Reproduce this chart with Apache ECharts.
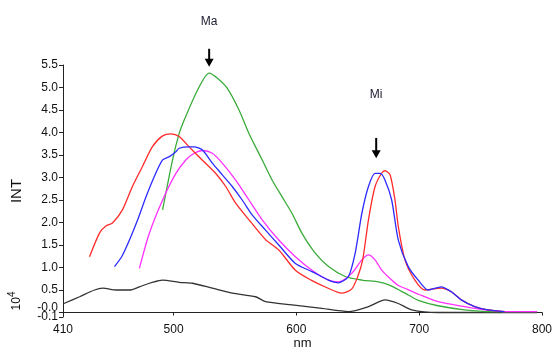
<!DOCTYPE html>
<html>
<head>
<meta charset="utf-8">
<script src="https://cdn.jsdelivr.net/npm/echarts@6/dist/echarts.min.js"></script>
<style>
  html, body { margin: 0; padding: 0; background: #fff; }
  #chart { width: 552px; height: 349px; }
</style>
</head>
<body>
<div id="chart"></div>
<script>
// wavelength (nm) / intensity (x10^4) pairs
const redNm = [431.6, 439.8, 444.9, 450.3, 458.4, 466.5, 474.6, 482.7, 490.8, 497.9, 504.6, 512.7, 523.3, 534.4, 542.5, 550.6, 561.4, 574.9, 585.7, 599.2, 612.0, 625.0, 636.8, 645.0, 650.0, 654.0, 658.7, 664.1, 669.5, 672.2, 676.3, 680.3, 683.0, 688.4, 696.5, 704.6, 717.9, 726.2, 734.3, 745.2, 756.0, 769.5];
const redInt = [1.24, 1.77, 1.92, 1.99, 2.28, 2.80, 3.24, 3.68, 3.92, 3.97, 3.91, 3.68, 3.39, 3.09, 2.80, 2.43, 2.06, 1.62, 1.39, 0.94, 0.72, 0.55, 0.43, 0.52, 0.80, 1.17, 2.06, 2.80, 3.10, 3.15, 3.06, 2.50, 1.91, 1.17, 0.72, 0.50, 0.54, 0.46, 0.28, 0.13, 0.06, 0.02];

const blueNm = [451.9, 458.0, 464.1, 470.8, 477.6, 484.0, 491.1, 497.0, 501.9, 504.6, 512.7, 516.8, 523.5, 531.6, 539.7, 547.8, 555.9, 564.0, 574.9, 585.7, 599.2, 612.7, 626.2, 634.3, 642.4, 647.9, 653.3, 658.7, 664.1, 668.2, 672.2, 677.6, 683.0, 691.1, 699.2, 707.3, 717.9, 726.2, 734.3, 745.2, 756.0, 769.5];
const blueInt = [1.02, 1.25, 1.61, 2.06, 2.57, 3.00, 3.39, 3.47, 3.57, 3.65, 3.68, 3.68, 3.61, 3.32, 3.06, 2.80, 2.50, 2.17, 1.83, 1.50, 1.09, 0.91, 0.72, 0.66, 0.80, 1.32, 2.20, 2.80, 3.09, 3.09, 2.94, 2.50, 1.61, 1.02, 0.72, 0.50, 0.57, 0.46, 0.28, 0.13, 0.06, 0.02];

const greenNm = [491.1, 499.2, 504.6, 508.7, 519.5, 529.0, 536.0, 543.8, 553.3, 561.4, 572.2, 580.3, 588.4, 596.5, 604.6, 615.4, 626.2, 639.8, 653.3, 666.8, 674.9, 685.7, 691.1, 699.2, 715.4, 737.0, 758.4, 796.0];
const greenInt = [2.28, 3.39, 3.98, 4.28, 4.94, 5.32, 5.20, 4.98, 4.50, 3.98, 3.39, 2.94, 2.57, 2.20, 1.76, 1.32, 1.02, 0.80, 0.72, 0.68, 0.62, 0.47, 0.39, 0.27, 0.15, 0.06, 0.02, 0.02];

const magentaNm = [472.2, 480.3, 491.1, 501.9, 510.0, 516.8, 523.5, 531.6, 539.7, 550.6, 561.4, 572.2, 585.7, 599.2, 612.7, 626.2, 634.3, 645.1, 653.3, 658.7, 664.1, 669.5, 677.6, 683.0, 690.0, 700.0, 715.4, 737.0, 753.3, 772.0, 796.0];
const magentaInt = [0.98, 1.76, 2.50, 3.09, 3.39, 3.54, 3.60, 3.54, 3.32, 2.94, 2.50, 2.06, 1.61, 1.24, 0.94, 0.72, 0.68, 0.87, 1.17, 1.28, 1.17, 0.94, 0.72, 0.60, 0.52, 0.40, 0.24, 0.13, 0.06, 0.02, 0.02];

const blackNm = [410.7, 423.5, 435.7, 442.4, 453.3, 464.1, 472.2, 480.3, 487.0, 491.1, 504.6, 515.4, 531.6, 547.8, 566.8, 574.9, 596.5, 620.8, 642.4, 658.7, 672.2, 683.0, 693.8, 715.4, 796.0];
const blackInt = [0.20, 0.35, 0.50, 0.54, 0.50, 0.50, 0.57, 0.65, 0.70, 0.72, 0.67, 0.65, 0.54, 0.43, 0.35, 0.24, 0.17, 0.09, 0.02, 0.13, 0.28, 0.20, 0.06, 0.00, 0.00];

const xTicks = [410, 500, 600, 700, 800];
// -0.1 kept last so the crowded bottom pair is not treated as min/next-label overlap
const yTicks = [0, 0.5, 1.0, 1.5, 2.0, 2.5, 3.0, 3.5, 4.0, 4.5, 5.0, 5.5, -0.1];

// peak markers: label, wavelength, arrow top, arrow tip, label height
const markers = [
  { text: "Ma", nm: 529, top: 5.86, tip: 5.46, label: 6.46 },
  { text: "Mi", nm: 665, top: 3.88, tip: 3.43, label: 4.83 },
];

const zip = (xs, ys) => xs.map((x, i) => [x, ys[i]]);
const FONT = "Liberation Sans, Arial, sans-serif";

function line(name, color, xs, ys) {
  return {
    name,
    type: "line",
    showSymbol: false,
    smooth: 0.25,
    lineStyle: { width: 1.3, color },
    itemStyle: { color },
    data: zip(xs, ys),
  };
}

const chart = echarts.init(document.getElementById("chart"), null, { renderer: "canvas" });

chart.setOption({
  backgroundColor: "#fff",
  animation: false,
  grid: { left: 63, right: 10, top: 65, bottom: 32, outerBoundsMode: "none", containLabel: false },
  xAxis: {
    type: "value",
    min: 410,
    max: 800,
    axisLine: { lineStyle: { color: "#222", width: 1 } },
    axisTick: { show: true, length: 3, customValues: xTicks, lineStyle: { color: "#222" } },
    axisLabel: { customValues: xTicks, fontFamily: FONT, fontSize: 12, color: "#111", margin: 7 },
    splitLine: { show: false },
  },
  yAxis: {
    type: "value",
    min: -0.1,
    max: 5.5,
    name: "INT",
    nameLocation: "middle",
    nameRotate: 90,
    nameGap: 39,
    nameTextStyle: { fontFamily: FONT, fontSize: 15, color: "#111" },
    axisLine: { show: true, lineStyle: { color: "#222", width: 1 } },
    axisTick: { show: true, length: 4, customValues: yTicks, lineStyle: { color: "#222" } },
    axisLabel: {
      customValues: yTicks,
      showMinLabel: true,
      showMaxLabel: true,
      hideOverlap: false,
      fontFamily: FONT,
      fontSize: 12,
      color: "#111",
      margin: 5,
      formatter: (v) => {
        if (Math.abs(v) < 1e-9) return "{up|-0.0}";
        if (v < 0) return "{lo|-0.1}";
        return v.toFixed(1);
      },
      rich: {
        up: { fontFamily: FONT, fontSize: 12, color: "#111", padding: [0, 0, 9, 0] },
        lo: { fontFamily: FONT, fontSize: 12, color: "#111", padding: [0, 0, 0, 0] },
      },
    },
    splitLine: { show: false },
  },
  series: [
    line("black", "#333333", blackNm, blackInt),
    line("green", "#3aab3a", greenNm, greenInt),
    line("magenta", "#ff30ff", magentaNm, magentaInt),
    line("red", "#ff2a2a", redNm, redInt),
    line("blue", "#2b2bff", blueNm, blueInt),
  ],
});

const toPx = (p) => chart.convertToPixel({ xAxisIndex: 0, yAxisIndex: 0 }, p);

// x axis title, exponent label and peak arrows
const [nmX, axisY] = toPx([605, -0.1]);
const graphics = [
  {
    type: "text",
    x: nmX,
    y: axisY + 26,
    style: { text: "nm", align: "center", verticalAlign: "middle", font: "13px " + FONT, fill: "#111" },
  },
  {
    type: "text",
    x: 17,
    y: 301,
    rotation: Math.PI / 2,
    style: {
      text: "{b|10}{s|4}",
      align: "center",
      verticalAlign: "middle",
      rich: {
        b: { fontFamily: FONT, fontSize: 12, fill: "#111" },
        s: { fontFamily: FONT, fontSize: 10, fill: "#111", padding: [0, 0, 9, 0] },
      },
    },
  },
];
markers.forEach((m) => {
  const [x, yTop] = toPx([m.nm, m.top]);
  const [, yTip] = toPx([m.nm, m.tip]);
  const [, yLab] = toPx([m.nm, m.label]);
  graphics.push(
    { type: "line", shape: { x1: x, y1: yTop, x2: x, y2: yTip - 6 }, style: { stroke: "#000", lineWidth: 2 } },
    { type: "polygon", shape: { points: [[x, yTip], [x - 4.5, yTip - 8], [x + 4.5, yTip - 8]] }, style: { fill: "#000" } },
    {
      type: "text",
      x,
      y: yLab,
      style: { text: m.text, align: "center", verticalAlign: "middle", font: "12px " + FONT, fill: "#1a1a2e" },
    }
  );
});
chart.setOption({ graphic: graphics });
</script>
</body>
</html>
